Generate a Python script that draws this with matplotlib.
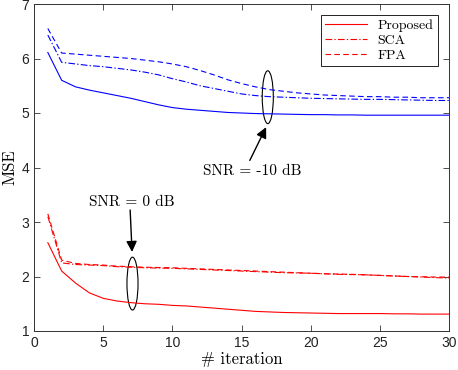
import numpy as np
import matplotlib
matplotlib.use('Agg')
import matplotlib.pyplot as plt
from matplotlib.patches import Ellipse

# iterations
it = np.arange(1, 31)

# SNR = -10 dB (blue)
prop_m10 = [6.11, 5.60, 5.48, 5.42, 5.37, 5.32, 5.27, 5.21, 5.15, 5.10,
            5.07, 5.05, 5.03, 5.01, 5.00, 4.99, 4.985, 4.98, 4.975, 4.97,
            4.97, 4.965, 4.965, 4.96, 4.96, 4.96, 4.96, 4.96, 4.96, 4.96]
sca_m10 = [6.43, 5.93, 5.90, 5.87, 5.85, 5.82, 5.79, 5.75, 5.70, 5.63,
           5.57, 5.50, 5.45, 5.40, 5.35, 5.32, 5.30, 5.29, 5.28, 5.27,
           5.265, 5.26, 5.255, 5.25, 5.25, 5.245, 5.24, 5.235, 5.23, 5.23]
fpa_m10 = [6.55, 6.10, 6.08, 6.06, 6.04, 6.02, 6.00, 5.97, 5.94, 5.90,
           5.85, 5.78, 5.70, 5.61, 5.54, 5.48, 5.43, 5.40, 5.37, 5.35,
           5.33, 5.32, 5.31, 5.30, 5.30, 5.29, 5.29, 5.28, 5.28, 5.28]

# SNR = 0 dB (red)
prop_0 = [2.62, 2.10, 1.88, 1.70, 1.60, 1.55, 1.52, 1.50, 1.49, 1.47,
          1.46, 1.44, 1.42, 1.40, 1.38, 1.36, 1.35, 1.34, 1.335, 1.33,
          1.325, 1.32, 1.32, 1.32, 1.32, 1.315, 1.315, 1.31, 1.31, 1.31]
sca_0 = [3.10, 2.25, 2.22, 2.21, 2.20, 2.18, 2.17, 2.16, 2.155, 2.15,
         2.14, 2.13, 2.12, 2.11, 2.10, 2.09, 2.08, 2.07, 2.065, 2.06,
         2.05, 2.04, 2.035, 2.03, 2.02, 2.01, 2.00, 1.99, 1.98, 1.97]
fpa_0 = [3.15, 2.30, 2.24, 2.22, 2.21, 2.19, 2.18, 2.17, 2.165, 2.16,
         2.15, 2.14, 2.13, 2.12, 2.11, 2.10, 2.09, 2.08, 2.07, 2.06,
         2.05, 2.045, 2.04, 2.03, 2.02, 2.01, 2.00, 1.995, 1.99, 1.99]

serif = 'cmr10'
fig = plt.figure(figsize=(4.58, 3.70), dpi=100)
ax = fig.add_axes([34/458, 1 - 331/370, 415/458, 327/370])

lw = 0.8
dash = (0, (5, 3))
dashdot = (0, (6, 2, 1.2, 2))
ax.plot(it, prop_m10, color='blue', lw=lw)
ax.plot(it, sca_m10, color='blue', lw=lw, ls=dashdot)
ax.plot(it, fpa_m10, color='blue', lw=lw, ls=dash)
ax.plot(it, prop_0, color='red', lw=lw, label='Proposed')
ax.plot(it, sca_0, color='red', lw=lw, ls=dashdot, label='SCA')
ax.plot(it, fpa_0, color='red', lw=lw, ls=dash, label='FPA')

# ellipses marking each SNR group
ax.add_patch(Ellipse((16.9, 5.29), 0.8, 0.97, fill=False, ec='black', lw=0.8))
ax.add_patch(Ellipse((7.12, 1.87), 0.8, 0.97, fill=False, ec='black', lw=0.8))

# arrows
arr = dict(arrowstyle='-|>', color='black', lw=1.0, mutation_scale=16,
           shrinkA=0, shrinkB=0)
ax.annotate('', xy=(16.78, 4.74), xytext=(15.6, 4.13), arrowprops=arr)
ax.annotate('', xy=(7.09, 2.45), xytext=(6.95, 3.22), arrowprops=arr)

ax.text(15.8, 3.93, 'SNR = -10 dB', ha='center', va='center',
        fontsize=11, family=serif)
ax.text(7.1, 3.36, 'SNR = 0 dB', ha='center', va='center',
        fontsize=11, family=serif)

ax.set_xlim(0, 30)
ax.set_ylim(1, 7)
ax.set_xticks([0, 5, 10, 15, 20, 25, 30])
ax.set_yticks([1, 2, 3, 4, 5, 6, 7])
ax.tick_params(direction='in', top=True, right=True, labelsize=10,
               color='#333333', width=0.6, length=4, labelcolor='#222222')
for lab in ax.get_xticklabels() + ax.get_yticklabels():
    lab.set_family('Liberation Sans')
for s in ax.spines.values():
    s.set_linewidth(0.7)
    s.set_color('#333333')

ax.set_xlabel('# iteration', family=serif, fontsize=12, labelpad=1)
ax.set_ylabel('MSE', family=serif, fontsize=12, labelpad=3)

leg = ax.legend(loc='upper right', prop={'family': serif, 'size': 10},
                fancybox=False, edgecolor='black', framealpha=1,
                handlelength=3, borderpad=0.3, labelspacing=0.15,
                borderaxespad=0.8)
leg.get_frame().set_linewidth(0.6)

fig.savefig('out.png', dpi=100)
